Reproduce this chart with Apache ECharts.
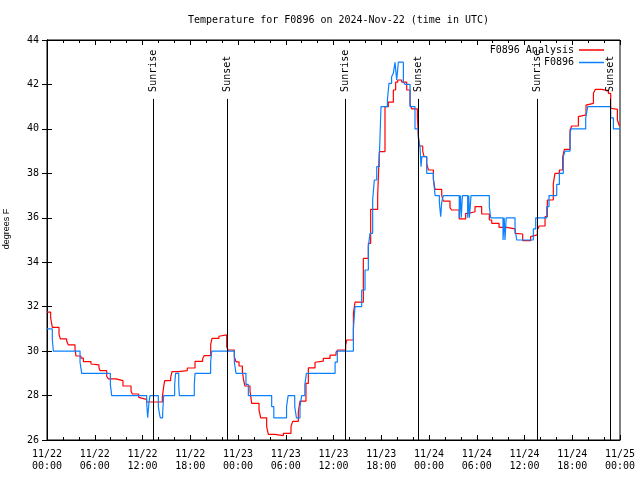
<!DOCTYPE html>
<html>
<head>
<meta charset="utf-8">
<script src="https://cdn.jsdelivr.net/npm/echarts/dist/echarts.min.js"></script>
<style>html,body{margin:0;padding:0;background:#fff}#c{width:640px;height:480px}</style>
</head>
<body>
<div id="c"></div>
<script>
// hours since 2024-11-22 00:00 UTC
const anaHours = [0,0.46,0.67,1.51,1.68,2.47,2.68,3.52,3.64,4.27,4.57,5.53,5.61,6.53,6.66,7.5,7.71,8.67,9.55,10.56,10.72,11.52,11.69,12.52,14.49,14.66,14.79,15.54,15.71,16.55,17.63,18.6,19.56,19.77,20.57,20.73,21.6,21.8,22.58,22.75,23.54,23.75,24.13,24.55,24.7,24.88,25.51,25.72,26.64,26.85,27.6,27.81,28.65,29.7,30.66,30.87,31.58,31.79,32.54,32.84,33.68,33.89,34.72,35.56,36.32,36.53,37.53,37.66,38.5,38.7,39.75,40.38,40.67,41.55,41.76,42.47,42.89,43.52,43.81,44.07,44.57,45.2,45.62,45.83,46.54,46.66,46.79,47.21,47.38,47.71,47.92,48.55,48.76,49.6,49.8,50.64,50.85,51.8,52.61,52.94,53.78,54.62,55.58,55.88,56.8,57.76,58.81,59.02,59.77,60.77,60.99,61.62,61.83,62.58,62.87,63.62,63.83,64.38,64.8,65.01,65.72,65.93,66.77,66.9,67.73,67.94,68.66,68.91,69.7,70.54,70.83,70.96,71.67,71.92,72];
const anaTemps = [31.75,31.5,31.07,30.75,30.55,30.45,30.28,30.1,29.78,29.68,29.53,29.42,29.38,29.25,29.12,28.87,28.75,28.67,28.43,28.2,28.07,27.92,27.83,27.71,27.92,28.4,28.67,28.82,29.08,29.12,29.24,29.54,29.67,29.8,30.3,30.57,30.67,30.73,30.2,30.05,29.75,29.52,29.33,29.1,28.7,28.43,28.2,27.65,27.35,27.0,26.6,26.25,26.2,26.3,26.6,26.84,27.27,27.75,28.55,29.25,29.5,29.55,29.67,29.82,29.95,30.05,30.27,30.5,31.7,32.2,34.17,34.85,36.38,37.0,38.98,41.0,41.2,41.75,42.1,42.2,42.1,41.75,41.1,40.9,40.5,39.7,39.23,39.0,38.75,38.45,38.15,37.7,37.28,37.0,36.75,36.45,36.35,35.95,36.2,36.27,36.5,36.17,35.9,35.75,35.57,35.5,35.3,35.27,34.97,35.15,35.23,35.45,35.63,36.05,36.8,37.55,38.0,38.15,38.75,39.08,39.95,40.13,40.55,40.63,41.07,41.15,41.6,41.78,41.72,41.6,40.93,40.88,40.4,40.13,40.13];

const obsHours = [0,0.67,0.8,4.15,4.36,7.96,8.13,12.52,12.65,12.82,12.94,13.99,14.12,14.24,14.53,14.66,16.04,16.16,16.55,16.63,18.51,18.6,20.56,20.7,23.54,23.75,25.0,25.3,28.23,28.5,30.1,30.3,31.13,31.34,31.79,32.0,32.4,32.6,36.2,36.48,38.5,38.7,39.54,39.96,40.38,40.59,40.92,41.13,41.43,41.76,41.97,42.77,42.97,43.3,43.52,43.73,43.94,44.15,44.78,44.99,45.62,46.24,46.66,46.87,47.0,47.1,47.71,48.55,48.76,49.3,49.47,49.6,49.8,51.8,51.95,52.05,52.2,52.86,53.0,53.08,53.28,55.58,55.75,57.3,57.45,57.55,57.7,58.81,59.02,61.11,61.41,62.79,63.08,64.05,64.38,64.88,65.09,65.72,65.85,67.69,67.94,70.83,71.17,72];
const obsTemps = [31,30.5,30,29.5,29,28.5,28,27.7,27,27.7,28,27.5,27.2,27,27.2,28,28.5,29,28.5,28,28.5,29,29.5,30,29.5,29,28.5,28,27.5,27,27.5,28,27.5,27,27.5,28,28.5,29,29.5,30,31,32,32.75,33.65,34.7,35.3,36.8,37.7,38.3,38.75,41.0,41.3,42.05,42.35,42.5,43.0,42.2,43.0,42.1,42.0,41.0,40.0,39.6,39.2,38.3,38.75,38.0,37.8,37.0,36.7,36.05,36.7,37.0,36.0,37.0,36.0,37.0,36.0,37.0,36.0,37.0,36.5,36.0,35.0,36.0,35.0,36.0,35.5,35.0,35.5,36.0,36.5,37.0,37.5,38.0,38.75,39.0,39.8,40.0,40.5,41.0,40.5,40.0,40.0];

const sunHours = [13.35, 22.65, 37.5, 46.65, 61.6, 70.83];
const sunNames = ['Sunrise','Sunset','Sunrise','Sunset','Sunrise','Sunset'];

const xTickLabels = ['11/22\n00:00','11/22\n06:00','11/22\n12:00','11/22\n18:00','11/23\n00:00','11/23\n06:00','11/23\n12:00','11/23\n18:00','11/24\n00:00','11/24\n06:00','11/24\n12:00','11/24\n18:00','11/25\n00:00'];

const FONT = 'DejaVu Sans Mono';
const lineTop = 41.35;

const zip = (a, b) => a.map((v, i) => [v, b[i]]);

const markData = [];
sunHours.forEach((h, i) => {
  markData.push([
    { coord: [h, 26], lineStyle: { color: '#000', width: 1, type: 'solid' }, label: { show: false } },
    { coord: [h, lineTop] }
  ]);
  markData.push([
    { coord: [h, lineTop], lineStyle: { color: 'rgba(0,0,0,0)', width: 1 },
      label: { show: true, formatter: sunNames[i], position: 'insideStart', distance: 7,
               fontFamily: FONT, fontSize: 10, color: '#000' } },
    { coord: [h, 44] }
  ]);
});

const chart = echarts.init(document.getElementById('c'), null, { renderer: 'canvas' });
chart.setOption({
  animation: false,
  backgroundColor: '#fff',
  title: {
    text: 'Temperature for F0896 on 2024-Nov-22 (time in UTC)',
    left: 333.5, top: 10, textAlign: 'center',
    textStyle: { fontFamily: FONT, fontSize: 10, fontWeight: 'normal', color: '#000' }
  },
  legend: {
    orient: 'vertical', right: 31, top: 39, align: 'right',
    itemWidth: 25, itemHeight: 1.5, itemGap: 0.5,
    textStyle: { fontFamily: FONT, fontSize: 10, color: '#000', lineHeight: 12 },
    data: [{ name: 'F0896 Analysis', icon: 'rect' }, { name: 'F0896', icon: 'rect' }]
  },
  grid: { left: 47, right: 20, top: 40, bottom: 40, show: true, borderColor: '#000', borderWidth: 1,
          containLabel: false, outerBoundsMode: 'none' },
  xAxis: [{
    type: 'value', min: 0, max: 72, interval: 6, position: 'bottom',
    axisLine: { show: true, lineStyle: { color: '#000' } },
    axisTick: { show: true, inside: true, length: 5, lineStyle: { color: '#000' } },
    minorTick: { show: true, splitNumber: 3, length: 3, lineStyle: { color: '#000' } },
    splitLine: { show: false },
    axisLabel: { fontFamily: FONT, fontSize: 10, color: '#000', margin: 8, lineHeight: 12,
      formatter: v => xTickLabels[Math.round(v / 6)] }
  }, {
    type: 'value', min: 0, max: 72, interval: 6, position: 'top',
    axisLine: { show: true, lineStyle: { color: '#000' } },
    axisTick: { show: true, inside: true, length: 5, lineStyle: { color: '#000' } },
    minorTick: { show: true, splitNumber: 3, length: 3, lineStyle: { color: '#000' } },
    splitLine: { show: false }, axisLabel: { show: false }
  }],
  yAxis: [{
    type: 'value', min: 26, max: 44, interval: 2, position: 'left',
    name: 'degrees F', nameLocation: 'middle', nameRotate: 90, nameGap: 36,
    nameTextStyle: { fontFamily: 'Liberation Sans', fontSize: 9, color: '#000', padding: [0, 0, 0, 22] },
    axisLine: { show: true, lineStyle: { color: '#000' } },
    axisTick: { show: true, inside: true, length: 5, lineStyle: { color: '#000' } },
    splitLine: { show: false },
    axisLabel: { fontFamily: FONT, fontSize: 10, color: '#000', margin: 8 }
  }, {
    type: 'value', min: 26, max: 44, interval: 2, position: 'right',
    axisLine: { show: true, lineStyle: { color: '#000' } },
    axisTick: { show: true, inside: true, length: 5, lineStyle: { color: '#000' } },
    splitLine: { show: false }, axisLabel: { show: false }
  }],
  series: [{
    name: 'F0896 Analysis', type: 'line', step: 'end', showSymbol: false, symbol: 'none',
    data: zip(anaHours, anaTemps), color: '#ff0000',
    lineStyle: { color: '#ff0000', width: 1.2 },
    markLine: { silent: true, symbol: ['none', 'none'], animation: false, data: markData }
  }, {
    name: 'F0896', type: 'line', step: 'end', showSymbol: false, symbol: 'none',
    data: zip(obsHours, obsTemps), color: '#0a80ff',
    lineStyle: { color: '#0a80ff', width: 1.2 }
  }]
});
</script>
</body>
</html>
